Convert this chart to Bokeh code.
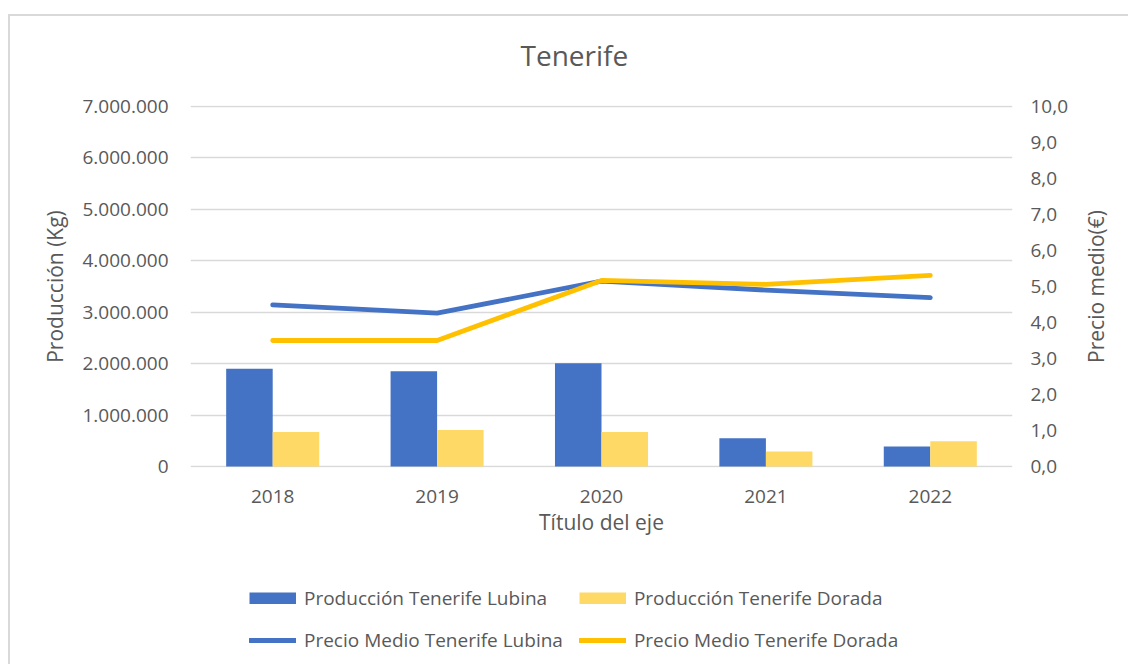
from bokeh.plotting import figure
from bokeh.layouts import column, row
from bokeh.models import (FactorRange, Range1d, LinearAxis, FixedTicker, Legend,
                          LegendItem, ColumnDataSource)
from bokeh.transform import dodge
from bokeh.embed import file_html
from bokeh.resources import INLINE

# ---- data ----
years = ["2018", "2019", "2020", "2021", "2022"]
prod_lubina = [1900000, 1850000, 2010000, 550000, 390000]
prod_dorada = [670000, 710000, 670000, 290000, 490000]
precio_lubina = [4.49, 4.26, 5.15, 4.90, 4.69]
precio_dorada = [3.50, 3.50, 5.17, 5.06, 5.31]

left_ticks = [0, 1000000, 2000000, 3000000, 4000000, 5000000, 6000000, 7000000]
left_labels = ["0", "1.000.000", "2.000.000", "3.000.000", "4.000.000",
               "5.000.000", "6.000.000", "7.000.000"]
right_ticks = [0, 1, 2, 3, 4, 5, 6, 7, 8, 9, 10]
right_labels = ["0,0", "1,0", "2,0", "3,0", "4,0", "5,0", "6,0", "7,0",
                "8,0", "9,0", "10,0"]

title_text = "Tenerife"
x_title = "Título del eje"
y_left_title = "Producción (Kg)"
y_right_title = "Precio medio(€)"
series_names = ["Producción Tenerife Lubina", "Producción Tenerife Dorada",
                "Precio Medio Tenerife Lubina", "Precio Medio Tenerife Dorada"]

BLUE = "#4472C4"
GOLD_BAR = "#FFD966"
GOLD_LINE = "#FFC000"
GREY_TXT = "#595959"
GRID = "#D9D9D9"
FONT = "Open Sans"

src = ColumnDataSource(dict(year=years, pl=prod_lubina, pd=prod_dorada,
                            ml=precio_lubina, md=precio_dorada))

W = 1128
W_TITLE_R = 50
W_MAIN = W - W_TITLE_R
H1 = 560
H2 = 104
FR_TOP = 105
FR_BOT = H1 - 467

# 1px of padding on each side of the value ranges so the edge gridlines show
lp = 7000000 / 360.0
rp = 10 / 360.0
p = figure(x_range=FactorRange(*years, range_padding=0),
           y_range=Range1d(-lp, 7000000 + lp),
           width=W_MAIN, height=H1, output_backend="svg", toolbar_location=None,
           min_border_left=190, min_border_right=W_MAIN - 1012,
           min_border_top=FR_TOP, min_border_bottom=FR_BOT)
p.extra_y_ranges = {"precio": Range1d(-rp, 10 + rp)}
p.border_fill_color = None
p.background_fill_color = None
p.styles = {
    "background-color": "white",
    "background-image": "linear-gradient(#D9D9D9,#D9D9D9), linear-gradient(#D9D9D9,#D9D9D9)",
    "background-size": "100% 2px, 2px 100%",
    "background-position": "9px 14px, 8px 14px",
    "background-repeat": "no-repeat",
}

bw = 0.283
r1 = p.vbar(x=dodge("year", -bw / 2, range=p.x_range), top="pl", width=bw,
            source=src, fill_color=BLUE, line_color=None)
r2 = p.vbar(x=dodge("year", bw / 2, range=p.x_range), top="pd", width=bw,
            source=src, fill_color=GOLD_BAR, line_color=None)
r3 = p.line(x="year", y="ml", source=src, y_range_name="precio",
            line_color=BLUE, line_width=4.8, line_cap="round", line_join="round")
r4 = p.line(x="year", y="md", source=src, y_range_name="precio",
            line_color=GOLD_LINE, line_width=4.8, line_cap="round", line_join="round")

# grid
p.xgrid.grid_line_color = None
p.ygrid.ticker = FixedTicker(ticks=left_ticks)
p.ygrid.grid_line_color = GRID
p.ygrid.grid_line_width = 1.5
p.outline_line_color = None

# left axis
ya = p.yaxis[0]
ya.ticker = FixedTicker(ticks=left_ticks)
ya.major_label_overrides = {t: l for t, l in zip(left_ticks, left_labels)}
ya.axis_label = y_left_title
ya.axis_label_standoff = 10
ya.major_label_standoff = 22

# right axis (tick labels)
ra = LinearAxis(y_range_name="precio", ticker=FixedTicker(ticks=right_ticks))
ra.major_label_overrides = {t: l for t, l in zip(right_ticks, right_labels)}
ra.major_label_standoff = 18
p.add_layout(ra, "right")

# x axis
xa = p.xaxis[0]
xa.axis_label = x_title
xa.axis_label_standoff = 2
xa.major_label_standoff = 22

# narrow strip at the right carrying the right-hand axis title (reads upwards)
r = figure(x_range=Range1d(0, 1), y_range=Range1d(0, 10), width=W_TITLE_R, height=H1,
           output_backend="svg", toolbar_location=None, x_axis_location=None,
           min_border_left=30, min_border_right=0,
           min_border_top=FR_TOP, min_border_bottom=FR_BOT)
r.grid.visible = False
r.outline_line_color = None
r.border_fill_color = None
r.background_fill_color = None
r.styles = {
    "background-color": "white",
    "background-image": "linear-gradient(#D9D9D9,#D9D9D9)",
    "background-size": "100% 2px",
    "background-position": "0px 14px",
    "background-repeat": "no-repeat",
}
rt = r.yaxis[0]
rt.ticker = FixedTicker(ticks=[])
rt.axis_label = y_right_title
rt.axis_label_standoff = 2

for ax in [xa, ya, ra, rt]:
    ax.axis_line_color = None
    ax.major_tick_line_color = None
    ax.minor_tick_line_color = None
    ax.major_tick_out = 0
    ax.major_tick_in = 0
    ax.major_label_text_font = FONT
    ax.major_label_text_font_size = "19px"
    ax.major_label_text_color = GREY_TXT
    ax.axis_label_text_font = FONT
    ax.axis_label_text_font_size = "21px"
    ax.axis_label_text_font_style = "normal"
    ax.axis_label_text_color = GREY_TXT

# title
p.title.text = title_text
p.title.align = "left"
p.title.offset = 330
p.title.text_font = FONT
p.title.text_font_size = "28px"
p.title.text_font_style = "normal"
p.title.text_color = GREY_TXT
p.title.standoff = 63

# legend strip (separate figure holding the legend)
q = figure(x_range=Range1d(0, 1), y_range=Range1d(0, 1), width=W, height=H2,
           output_backend="svg", toolbar_location=None,
           min_border_left=190, min_border_right=W - 1012,
           min_border_top=0, min_border_bottom=0)
q.axis.visible = False
q.grid.visible = False
q.outline_line_color = None
q.border_fill_color = None
q.background_fill_color = None
q.styles = {
    "background-color": "white",
    "background-image": "linear-gradient(#D9D9D9,#D9D9D9)",
    "background-size": "2px 100%",
    "background-position": "8px 0px",
    "background-repeat": "no-repeat",
}
# legend-key glyphs: placed outside the visible range, they only feed the legend
off = ColumnDataSource(dict(x=[-5.0, -4.0], y=[-5.0, -4.0]))
g1 = q.line(x="x", y="y", source=off, line_color=BLUE, line_width=12, line_cap="butt")
g2 = q.line(x="x", y="y", source=off, line_color=GOLD_BAR, line_width=12, line_cap="butt")
g3 = q.line(x="x", y="y", source=off, line_color=BLUE, line_width=4.8, line_cap="round")
g4 = q.line(x="x", y="y", source=off, line_color=GOLD_LINE, line_width=4.8, line_cap="round")

legend = Legend(items=[LegendItem(label=series_names[0], renderers=[g1]),
                       LegendItem(label=series_names[1], renderers=[g2]),
                       LegendItem(label=series_names[2], renderers=[g3]),
                       LegendItem(label=series_names[3], renderers=[g4])],
                location=(59, 11), orientation="horizontal", ncols=2)
legend.margin = 0
legend.padding = 0
legend.spacing = 16
legend.glyph_width = 47
legend.glyph_height = 12
legend.label_standoff = 8
legend.label_text_font = FONT
legend.label_text_font_size = "19px"
legend.label_text_color = GREY_TXT
legend.border_line_color = None
legend.background_fill_alpha = 0
q.add_layout(legend, "center")

layout = column(row(p, r, spacing=0), q, spacing=0)
open("out.html", "w").write(file_html(layout, INLINE))
